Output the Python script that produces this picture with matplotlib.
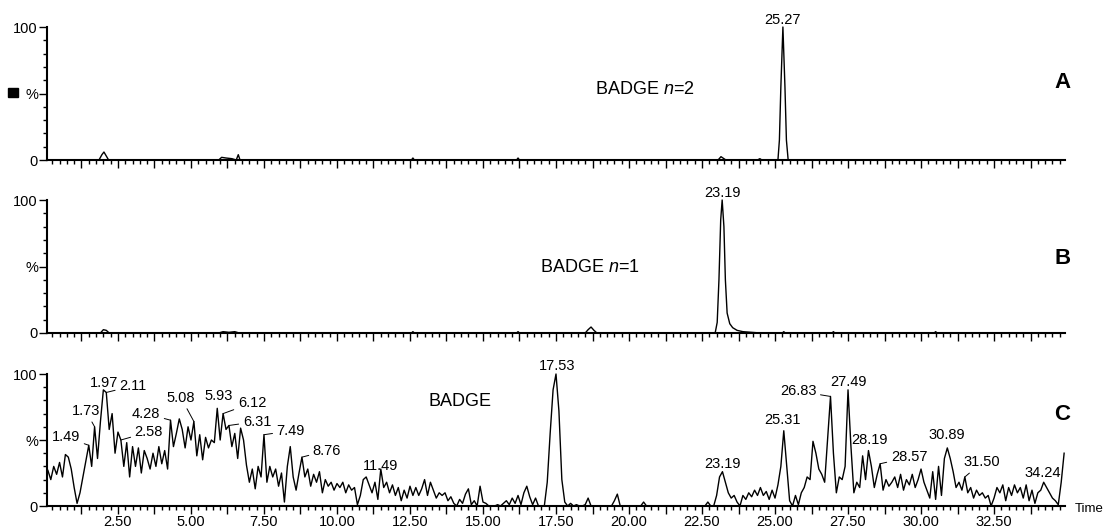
import numpy as np
import matplotlib.pyplot as plt
from matplotlib.ticker import MultipleLocator, FixedLocator, FuncFormatter
from matplotlib.patches import Rectangle

plt.rcParams['font.family'] = ['Liberation Sans', 'DejaVu Sans']
plt.rcParams['mathtext.fontset'] = 'custom'
plt.rcParams['mathtext.rm'] = 'Liberation Sans'
plt.rcParams['mathtext.it'] = 'Liberation Sans:italic'

# --- trace A: BADGE n=2 (sparse points, baseline 0) ---
a_time = [0.07, 1.85, 1.95, 2.02, 2.1, 2.18, 5.95, 6.05, 6.2, 6.4, 6.55, 6.62, 6.68,
          12.55, 12.6, 12.65, 16.15, 16.2, 16.25, 23.05, 23.15, 23.25, 23.32,
          24.4, 24.48, 24.55, 25.1, 25.15, 25.2, 25.27, 25.34, 25.39, 25.45, 34.93]
a_int = [0, 0, 4, 6, 3, 0, 0, 2, 1.5, 1, 0, 4, 0,
         0, 1.5, 0, 0, 1.5, 0, 0, 2.5, 1, 0,
         0, 1, 0, 0, 15, 55, 100, 55, 15, 0, 0]

# --- trace B: BADGE n=1 ---
b_time = [0.07, 1.9, 2.0, 2.1, 2.2, 5.95, 6.1, 6.3, 6.5, 6.65, 12.55, 12.6, 12.65,
          16.15, 16.2, 16.25, 18.5, 18.6, 18.7, 18.8, 18.9, 22.95, 23.02, 23.08,
          23.14, 23.19, 23.25, 23.3, 23.36, 23.45, 23.55, 23.7, 23.9, 24.2, 24.5,
          25.25, 25.3, 25.35, 26.95, 27.0, 27.05, 30.45, 30.5, 30.55, 34.93]
b_int = [0, 0, 2.5, 2, 0, 0, 1, 0.5, 1, 0, 0, 1, 0,
         0, 1, 0, 0, 2.5, 4.5, 2, 0, 0, 8, 40,
         85, 100, 80, 40, 15, 7, 4, 2, 1, 0.5, 0,
         0, 1, 0, 0, 1, 0, 0, 1, 0, 0]

# --- trace C: BADGE, one reading every 0.1 min from 0.1 to 34.9 ---
c_int = [
    27, 20, 30, 24, 33, 22, 39, 37, 28, 14,
    2, 10, 22, 34, 46, 30, 60, 36, 64, 88,
    86, 58, 70, 40, 56, 50, 30, 48, 22, 45,
    30, 44, 25, 42, 36, 28, 40, 30, 45, 32,
    42, 28, 65, 45, 55, 66, 58, 44, 60, 50,
    64, 38, 54, 35, 52, 44, 50, 48, 74, 50,
    70, 58, 61, 45, 55, 36, 59, 50, 31, 18,
    28, 13, 30, 22, 54, 18, 30, 22, 28, 15,
    25, 3, 30, 45, 22, 12, 25, 37, 22, 28,
    15, 24, 18, 26, 10, 20, 15, 18, 12, 17,
    14, 18, 10, 16, 12, 14, 1, 8, 20, 22,
    16, 10, 18, 5, 28, 14, 18, 10, 16, 8,
    14, 4, 12, 6, 15, 8, 14, 8, 13, 20,
    8, 18, 12, 6, 10, 8, 10, 4, 7, 2,
    0, 5, 2, 9, 13, 1, 4, 0, 15, 3,
    2, 0, 0, 0, 1, 0, 2, 4, 1, 6,
    2, 8, 1, 10, 15, 7, 1, 6, 0, 0,
    0, 18, 55, 88, 100, 72, 20, 3, 0, 2,
    0, 1, 0, 0, 1, 6, 0, 0, 0, 0,
    0, 0, 0, 0, 4, 9, 0, 0, 0, 0,
    0, 0, 0, 0, 3, 0, 0, 0, 0, 0,
    0, 0, 0, 0, 0, 0, 0, 0, 0, 0,
    0, 0, 0, 0, 0, 0, 3, 0, 0, 8,
    22, 26, 18, 10, 6, 8, 3, 0, 8, 5,
    10, 7, 12, 8, 14, 8, 11, 5, 12, 6,
    16, 30, 57, 30, 4, 0, 8, 1, 10, 14,
    22, 20, 49, 40, 28, 24, 18, 50, 83, 40,
    10, 22, 20, 30, 88, 45, 10, 18, 14, 38,
    20, 42, 30, 14, 24, 32, 12, 20, 15, 18,
    22, 14, 24, 12, 20, 16, 24, 14, 20, 28,
    18, 12, 6, 26, 5, 30, 8, 36, 44, 36,
    26, 14, 18, 12, 22, 10, 14, 6, 12, 8,
    10, 6, 8, 0, 6, 14, 10, 16, 4, 14,
    8, 16, 10, 14, 6, 16, 4, 12, 2, 10,
    12, 18, 14, 10, 6, 4, 1, 18, 40,
]
c_time = np.round(np.arange(1, len(c_int) + 1) * 0.1, 2)

# peak labels: (text, peak time, text x, text y, leader line)
a_labels = [("25.27", 25.27, 25.27, 105, False)]
b_labels = [("23.19", 23.19, 23.19, 105, False)]
c_labels = [
    ("1.49", 1.5, 0.72, 52, True), ("1.73", 1.7, 1.40, 72, True),
    ("1.97", 2.0, 2.02, 93, False), ("2.11", 2.1, 3.01, 91, True),
    ("2.58", 2.6, 3.56, 56, True), ("4.28", 4.3, 3.46, 70, True),
    ("5.08", 5.1, 4.66, 82, True), ("5.93", 5.9, 5.96, 83, False),
    ("6.12", 6.1, 7.09, 78, True), ("6.31", 6.3, 7.26, 64, True),
    ("7.49", 7.5, 8.42, 57, True), ("8.76", 8.8, 9.66, 42, True),
    ("11.49", 11.5, 11.5, 30, False), ("17.53", 17.5, 17.53, 106, False),
    ("23.19", 23.2, 23.19, 32, False), ("25.31", 25.3, 25.27, 65, False),
    ("26.83", 26.9, 25.79, 87, True), ("27.49", 27.5, 27.5, 94, False),
    ("28.19", 28.2, 28.25, 50, False), ("28.57", 28.6, 29.59, 37, True),
    ("30.89", 30.9, 30.89, 54, False), ("31.50", 31.5, 32.09, 33, True),
    ("34.24", 34.2, 34.18, 25, False),
]

W, H = 1105, 530
fig = plt.figure(figsize=(W / 100, H / 100), dpi=100)


def make_axes(y0, y100):
    ax = fig.add_axes([47 / W, (H - y0) / H, 1018 / W, (y0 - y100) / H])
    ax.set_xlim(0.07, 34.93)
    ax.set_ylim(0, 100)
    for s in ("top", "right"):
        ax.spines[s].set_visible(False)
    ax.spines["left"].set_linewidth(1.5)
    ax.spines["bottom"].set_linewidth(1.5)
    ax.xaxis.set_major_locator(MultipleLocator(1.25))
    ax.xaxis.set_minor_locator(MultipleLocator(0.25))
    ax.xaxis.set_major_formatter(FuncFormatter(
        lambda x, pos: f"{x:.2f}" if abs(x / 2.5 - round(x / 2.5)) < 1e-6 and x > 0 else ""))
    ax.yaxis.set_major_locator(FixedLocator([0, 50, 100]))
    ax.set_yticklabels(["0", "%", "100"])
    ax.yaxis.set_minor_locator(MultipleLocator(10))
    ax.tick_params(axis="both", which="major", length=5.5, width=1, labelsize=10.5, pad=1)
    ax.tick_params(axis="both", which="minor", length=3, width=1)
    return ax


def label_peaks(ax, t, v, labels):
    t = np.asarray(t)
    v = np.asarray(v)
    for txt, pt, tx, ty, leader in labels:
        i = np.argmin(np.abs(t - pt))
        if leader:
            ax.annotate(txt, xy=(t[i], v[i]), xytext=(tx, ty), ha="center", va="center",
                        fontsize=10.5, annotation_clip=False,
                        arrowprops=dict(arrowstyle="-", lw=0.7, color="k",
                                        shrinkA=1, shrinkB=0))
        else:
            ax.text(tx, ty, txt, ha="center", va="center", fontsize=10.5)


ax_a = make_axes(160, 27)
ax_b = make_axes(333, 200)
ax_c = make_axes(506, 374)

for ax in (ax_a, ax_b):
    ax.tick_params(axis="x", labelbottom=False)

ax_a.plot(a_time, a_int, color="k", lw=1.0, clip_on=False)
ax_b.plot(b_time, b_int, color="k", lw=1.0, clip_on=False)
ax_c.plot(c_time, c_int, color="k", lw=1.0, clip_on=False)

label_peaks(ax_a, a_time, a_int, a_labels)
label_peaks(ax_b, b_time, b_int, b_labels)
label_peaks(ax_c, c_time, c_int, c_labels)

ax_a.text(20.55, 53, "BADGE $n$=2", ha="center", va="center", fontsize=13)
ax_b.text(18.66, 49, "BADGE $n$=1", ha="center", va="center", fontsize=13)
ax_c.text(14.21, 79, "BADGE", ha="center", va="center", fontsize=13)

ax_a.text(34.86, 58, "A", ha="center", va="center", fontsize=16, fontweight="bold")
ax_b.text(34.86, 56, "B", ha="center", va="center", fontsize=16, fontweight="bold")
ax_c.text(34.83, 69, "C", ha="center", va="center", fontsize=16, fontweight="bold")

fig.text(1075 / W, 1 - 509 / H, "Time", ha="left", va="center", fontsize=9.5)
fig.add_artist(Rectangle((8 / W, 1 - 97 / H), 10 / W, 9 / H,
                         transform=fig.transFigure, color="k"))

fig.savefig("out.png", dpi=100)
